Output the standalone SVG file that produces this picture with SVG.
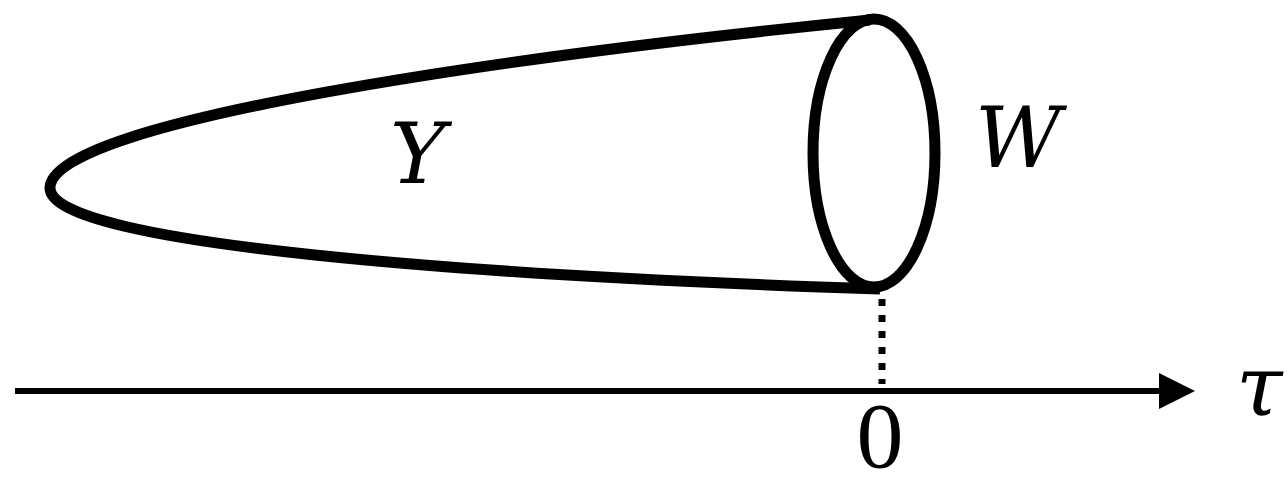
<svg xmlns="http://www.w3.org/2000/svg" width="1288" height="486" viewBox="0 0 1288 486">
<style>
.s{fill:none;stroke:#000;stroke-width:11;stroke-linejoin:round}
.t{font-family:"Liberation Serif","Times New Roman",serif;font-size:94px;fill:#000}
.i{font-family:"DejaVu Serif",serif;font-style:italic;font-size:84px}
</style>
<defs>
<marker id="ah" markerUnits="userSpaceOnUse" markerWidth="36" markerHeight="36" refX="0" refY="18" orient="auto" viewBox="0 0 36 36">
<path d="M0 0 L36 18 L0 36 Z" fill="#000"/>
</marker>
</defs>
<g id="cone">
<path class="s" d="M 870 20 C 520 55, 50 120, 50 188 C 50 245, 480 276, 880 289"/>
</g>
<g id="W-disk">
<ellipse class="s" cx="874" cy="153" rx="61" ry="134"/>
</g>
<g id="connectors">
<line x1="15" y1="391" x2="1159" y2="391" stroke="#000" stroke-width="6" marker-end="url(#ah)"/>
<line x1="882" y1="299" x2="882" y2="384" stroke="#000" stroke-width="7" stroke-dasharray="7 9"/>
</g>
<g id="labels">
<text class="t i" x="390" y="183">Y</text>
<text class="t i" x="975" y="167">W</text>
<text class="t i" x="1236" y="415">τ</text>
<text class="t" x="880" y="467" font-size="84" text-anchor="middle">0</text>
</g>
</svg>
